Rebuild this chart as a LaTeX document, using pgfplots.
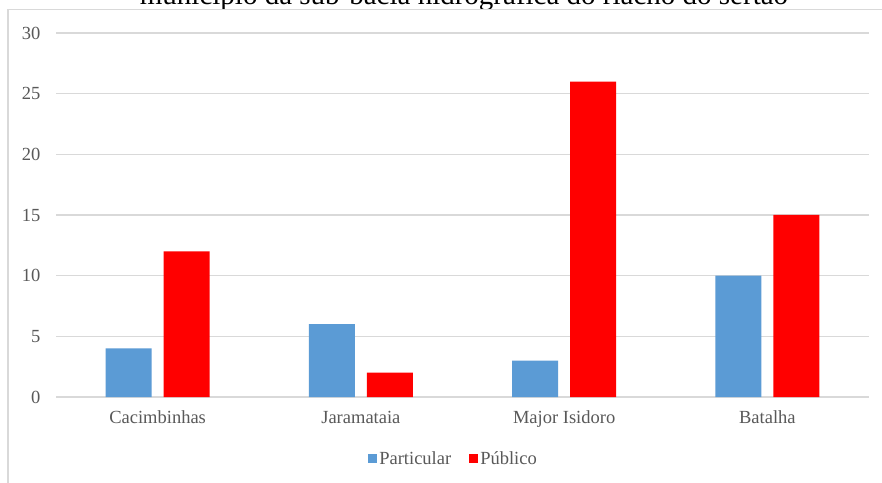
\documentclass[border=0pt]{standalone}
\usepackage{pgfplots}
\pgfplotsset{compat=1.18}
\usepackage{fontspec}
\setmainfont{Liberation Serif}
\definecolor{barblue}{HTML}{5B9BD5}
\definecolor{barred}{HTML}{FF0000}
\definecolor{gridgray}{HTML}{D9D9D9}
\definecolor{txtgray}{HTML}{595959}
\begin{document}
\begin{tikzpicture}[x=1pt,y=1pt]
\useasboundingbox (0,0) rectangle (882,482);
\node[anchor=base, inner sep=0pt, font=\fontsize{29}{34}\selectfont, text=black] at (464,477) {município da sub-bacia hidrográfica do riacho do sertão};
\fill[white] (8,0) rectangle (882,472);
\draw[gridgray, line width=1.5pt] (8,-2) -- (8,472.5) -- (884,472.5);
\begin{axis}[
  at={(56pt,85pt)}, anchor=south west,
  scale only axis, width=813pt, height=364pt,
  xmin=-0.5, xmax=3.5, ymin=0, ymax=30,
  xtick={0,1,2,3},
  xticklabels={Cacimbinhas,Jaramataia,Major Isidoro,Batalha},
  ytick={0,5,...,30},
  ymajorgrids,
  grid style={gridgray, line width=1.2pt},
  axis line style={draw=none},
  major tick style={draw=none},
  /pgf/number format/assume math mode=true,
  ticklabel style={font=\fontsize{18.5}{21}\selectfont, text=txtgray},
  yticklabel style={xshift=-12pt},
  xticklabel style={yshift=-6pt},
  ybar, bar width=46pt,
  legend style={draw=none, at={(0.489,-0.170)}, anchor=center, legend columns=2,
    font=\fontsize{18.5}{21}\selectfont, text=txtgray,
    /tikz/every even column/.append style={column sep=16pt},
    nodes={inner sep=2pt}},
  legend image code/.code={\fill[#1] (0pt,-4.5pt) rectangle (9pt,4.5pt);},
]
\addplot[fill=barblue, draw=none, bar shift=-29pt] coordinates {(0,4) (1,6) (2,3) (3,10)};
\addlegendentry{Particular}
\addplot[fill=barred, draw=none, bar shift=29pt] coordinates {(0,12) (1,2) (2,26) (3,15)};
\addlegendentry{Público}
\end{axis}
\end{tikzpicture}
\end{document}
